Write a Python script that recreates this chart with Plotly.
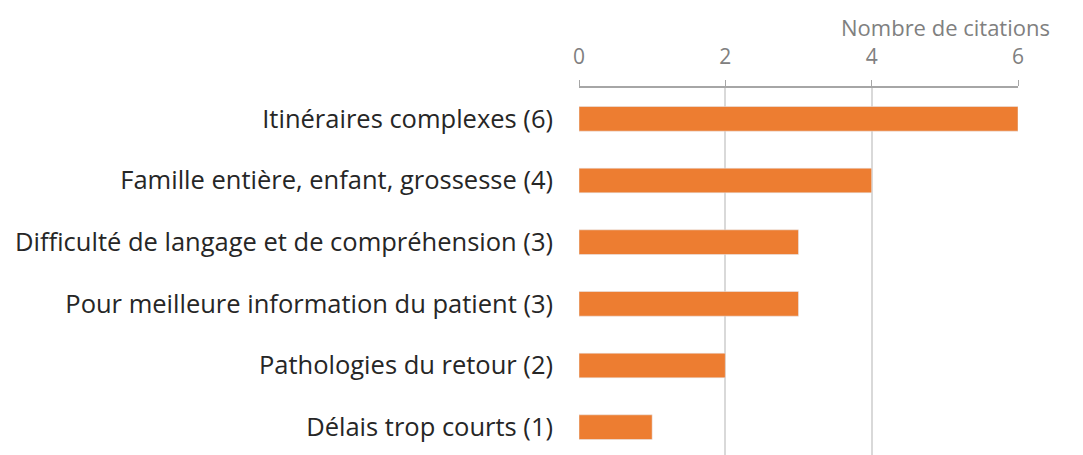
import plotly.graph_objects as go

# Data
categories = [
    "Itinéraires complexes (6)",
    "Famille entière, enfant, grossesse (4)",
    "Difficulté de langage et de compréhension (3)",
    "Pour meilleure information du patient (3)",
    "Pathologies du retour (2)",
    "Délais trop courts (1)",
]
citations = [6, 4, 3, 3, 2, 1]
tick_values = [0, 2, 4, 6]

fig = go.Figure(go.Bar(
    x=citations,
    y=categories,
    orientation="h",
    marker=dict(color="#ED7D31"),
    width=0.4,
))

# page body adds an 8px margin, so margins are set 8px smaller
fig.update_layout(
    width=1083,
    height=455,
    margin=dict(l=571, r=73, t=80, b=5),
    plot_bgcolor="white",
    paper_bgcolor="white",
    font=dict(family="Open Sans", color="#262626"),
    showlegend=False,
)

fig.update_xaxes(
    side="top",
    range=[0, 6],
    tickvals=tick_values,
    showline=True,
    linecolor="#A6A6A6",
    linewidth=1.5,
    ticks="outside",
    ticklen=6,
    tickcolor="#A6A6A6",
    ticklabelstandoff=8,
    showgrid=True,
    gridcolor="#D9D9D9",
    gridwidth=1.5,
    zeroline=False,
    tickfont=dict(size=21, color="#808080"),
)

fig.update_yaxes(
    autorange="reversed",
    tickfont=dict(size=25.5, color="#262626"),
    ticklabelstandoff=25,
    showline=False,
    ticks="",
)

fig.add_annotation(
    text="Nombre de citations",
    xref="paper", yref="paper",
    x=1, y=1,
    xanchor="right", yanchor="middle",
    xshift=34, yshift=61,
    showarrow=False,
    font=dict(size=22, color="#808080"),
)

fig.write_html("out.html")
